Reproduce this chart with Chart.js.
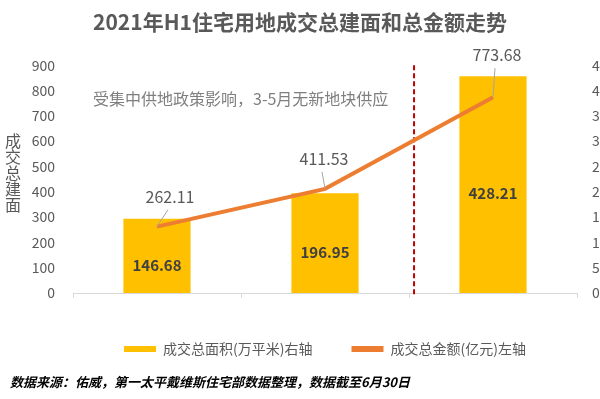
<!DOCTYPE html>
<html><head><meta charset="utf-8">
<script src="https://cdn.jsdelivr.net/npm/chart.js@4.4.0/dist/chart.umd.min.js"></script>
<style>html,body{margin:0;padding:0;background:#fff;overflow:hidden}</style>
</head><body>
<canvas id="c" width="600" height="399"></canvas>
<script>
const categories = ['1月', '2月', '6月'];
const areaValues = [146.68, 196.95, 428.21];     // 成交总面积(万平米) — right axis
const amountValues = [262.11, 411.53, 773.68];   // 成交总金额(亿元) — left axis
const leftTicks = [0, 100, 200, 300, 400, 500, 600, 700, 800, 900];
const rightTicks = [0, 50, 100, 150, 200, 250, 300, 350, 400, 450];
const seriesNames = ['成交总面积(万平米)右轴', '成交总金额(亿元)左轴'];
const titleText = '2021年H1住宅用地成交总建面和总金额走势';
const noteText = '受集中供地政策影响，3-5月无新地块供应';
const yTitleText = '成交总建面';
const sourceText = '数据来源：佑威，第一太平戴维斯住宅部数据整理，数据截至6月30日';
const dividerPosition = 1.53;

const FONT = '"Noto Sans CJK SC", "Noto Sans", sans-serif';

const decor = {
  id: 'decor',
  beforeDatasetsDraw(chart) {
    const {ctx, chartArea, scales} = chart;
    const x = scales.x;
    const i0 = Math.floor(dividerPosition), f = dividerPosition - i0;
    const p0 = x.getPixelForValue(i0), p1 = x.getPixelForValue(i0 + 1);
    const px = p0 + f * (p1 - p0);
    ctx.save();
    ctx.strokeStyle = '#C00000';
    ctx.lineWidth = 2;
    ctx.setLineDash([5, 3]);
    ctx.beginPath();
    ctx.moveTo(px, chartArea.top);
    ctx.lineTo(px, chartArea.bottom + 3);
    ctx.stroke();
    ctx.restore();
  },
  afterDatasetsDraw(chart, args, opts) {
    const {ctx} = chart;
    ctx.save();
    // bar labels
    const barMeta = chart.getDatasetMeta(0);
    ctx.font = 'bold 15px ' + FONT;
    ctx.fillStyle = '#404040';
    ctx.textAlign = 'center';
    ctx.textBaseline = 'middle';
    barMeta.data.forEach((el, i) => {
      const v = chart.data.datasets[0].data[i];
      ctx.fillText(v.toFixed(2), el.x, (el.y + el.base) / 2 + 9);
    });
    // line labels with leader lines
    const lineMeta = chart.getDatasetMeta(1);
    ctx.font = '16px ' + FONT;
    ctx.fillStyle = '#595959';
    lineMeta.data.forEach((el, i) => {
      const v = chart.data.datasets[1].data[i];
      const [dx, dy] = opts.offsets[i];
      const lx = el.x + dx, ly = el.y + dy;
      ctx.fillText(v.toFixed(2), lx, ly);
      ctx.strokeStyle = '#a6a6a6';
      ctx.lineWidth = 1;
      ctx.beginPath();
      ctx.moveTo(lx - 2, ly + 13);
      ctx.lineTo(el.x, el.y);
      ctx.stroke();
    });
    ctx.restore();
  },
  afterDraw(chart) {
    const {ctx, chartArea} = chart;
    ctx.save();
    // note
    ctx.font = '16px ' + FONT;
    ctx.fillStyle = '#7f7f7f';
    ctx.textAlign = 'left';
    ctx.textBaseline = 'middle';
    ctx.fillText(noteText, chartArea.left + 20, chartArea.top + 34);
    // vertical y title
    ctx.font = '16px ' + FONT;
    ctx.fillStyle = '#595959';
    ctx.textAlign = 'center';
    const chars = Array.from(yTitleText);
    const step = 16;
    const mid = (chartArea.top + chartArea.bottom) / 2 - 6;
    chars.forEach((c, i) => {
      ctx.fillText(c, 13, mid + (i - (chars.length - 1) / 2) * step);
    });
    // source
    ctx.font = 'italic bold 13px ' + FONT;
    ctx.fillStyle = '#000000';
    ctx.textAlign = 'left';
    ctx.fillText(sourceText, 10, chart.height - 17);
    ctx.restore();
  }
};

new Chart(document.getElementById('c'), {
  data: {
    labels: categories,
    datasets: [
      {
        type: 'bar',
        label: seriesNames[0],
        data: areaValues,
        yAxisID: 'y1',
        backgroundColor: '#FFC000',
        barPercentage: 0.4,
        categoryPercentage: 1,
        order: 1
      },
      {
        type: 'line',
        label: seriesNames[1],
        data: amountValues,
        yAxisID: 'y',
        borderColor: '#ED7D31',
        borderWidth: 4,
        pointRadius: 0,
        tension: 0,
        fill: false,
        order: 0
      }
    ]
  },
  options: {
    responsive: false,
    devicePixelRatio: 1,
    animation: false,
    layout: {padding: {left: 0, right: 0, top: 0, bottom: 33}},
    scales: {
      x: {
        type: 'category',
        grid: {offset: true, drawOnChartArea: false, drawTicks: true, tickLength: 5, color: '#d9d9d9'},
        border: {color: '#d9d9d9'},
        ticks: {color: '#595959', font: {size: 14, family: FONT}, padding: 7},
        afterFit: s => { s.height = 10; }
      },
      y: {
        position: 'left',
        min: leftTicks[0],
        max: leftTicks[leftTicks.length - 1],
        grid: {display: false, drawTicks: false},
        border: {display: false},
        ticks: {color: '#595959', font: {size: 14, family: FONT}, padding: 18},
        afterBuildTicks: s => { s.ticks = leftTicks.map(v => ({value: v})); },
        afterFit: s => { s.width = 73; }
      },
      y1: {
        position: 'right',
        min: rightTicks[0],
        max: rightTicks[rightTicks.length - 1],
        grid: {display: false, drawTicks: false},
        border: {display: false},
        ticks: {color: '#595959', font: {size: 14, family: FONT}, padding: 15, crossAlign: 'near'},
        afterBuildTicks: s => { s.ticks = rightTicks.map(v => ({value: v})); },
        afterFit: s => { s.width = 23; }
      }
    },
    plugins: {
      tooltip: {enabled: false},
      title: {
        display: true,
        text: titleText,
        color: '#595959',
        font: {size: 21, weight: 'bold', family: FONT},
        padding: {top: 9, bottom: 31}
      },
      legend: {
        display: true,
        position: 'bottom',
        fullSize: false,
        labels: {
          color: '#595959',
          font: {size: 14, family: FONT},
          boxWidth: 32,
          boxHeight: 6,
          padding: 39,
          sort: (a, b) => a.datasetIndex - b.datasetIndex,
          generateLabels(chart) {
            const items = Chart.defaults.plugins.legend.labels.generateLabels(chart);
            items.forEach(it => {
              const ds = chart.data.datasets[it.datasetIndex];
              it.fillStyle = ds.type === 'line' ? ds.borderColor : ds.backgroundColor;
              it.strokeStyle = it.fillStyle;
              it.lineWidth = 0;
            });
            return items;
          }
        }
      },
      decor: {offsets: [[13, -30], [-1, -30], [4, -42]]}
    }
  },
  plugins: [decor]
});
</script>
</body></html>
